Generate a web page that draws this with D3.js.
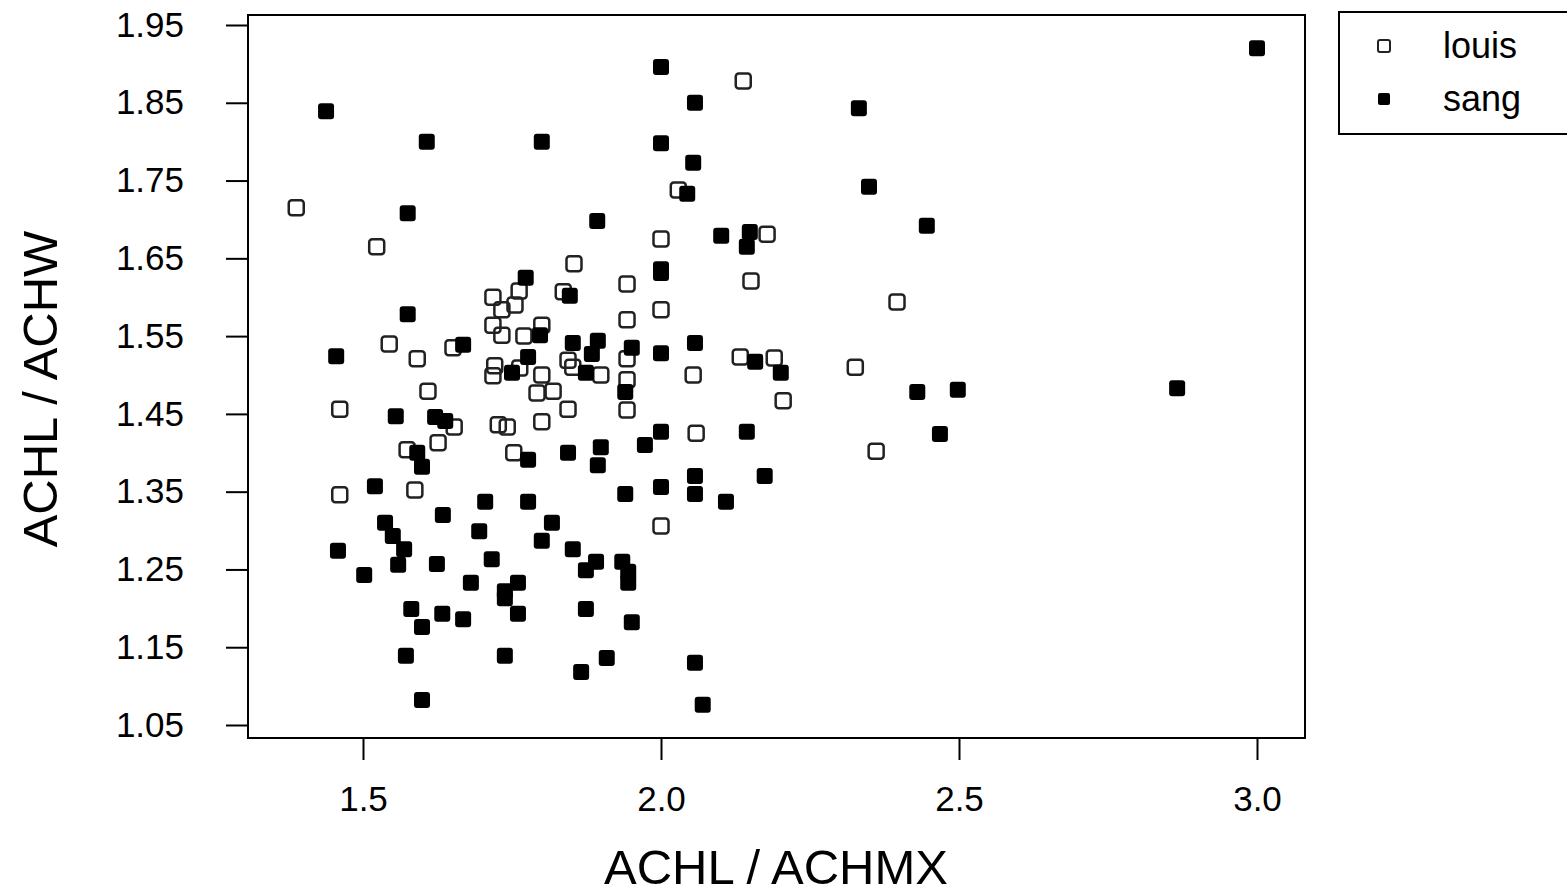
<!DOCTYPE html>
<html>
<head>
<meta charset="utf-8">
<script src="https://cdn.jsdelivr.net/npm/d3@7"></script>
<style>
  body { margin: 0; background: #fff; }
  text { font-family: "Liberation Sans", Arial, sans-serif; fill: #000; }
</style>
</head>
<body>
<svg width="1567" height="893"></svg>
<script>
(function () {

  // louis (open squares): [ACHL/ACHMX, ACHL/ACHW]
  const LOUIS = [
    [1.388, 1.715], [1.523, 1.665], [1.544, 1.540], [1.591, 1.521], [1.609, 1.479],
    [1.461, 1.456], [1.626, 1.413], [1.653, 1.433], [1.574, 1.404], [1.461, 1.346],
    [1.587, 1.352], [1.651, 1.535], [1.718, 1.600], [1.762, 1.608], [1.755, 1.590],
    [1.733, 1.584], [1.718, 1.564], [1.733, 1.551], [1.770, 1.550], [1.800, 1.564],
    [1.836, 1.607], [1.854, 1.643], [1.943, 1.617], [1.943, 1.571], [1.844, 1.519],
    [1.852, 1.510], [1.899, 1.500], [1.943, 1.521], [1.943, 1.494], [1.943, 1.455],
    [1.721, 1.512], [1.718, 1.499], [1.763, 1.509], [1.800, 1.500], [1.792, 1.477],
    [1.819, 1.479], [1.844, 1.456], [1.800, 1.440], [1.727, 1.436], [1.742, 1.433],
    [1.753, 1.400], [2.000, 1.675], [2.000, 1.584], [2.000, 1.306], [2.029, 1.738],
    [2.138, 1.878], [2.178, 1.681], [2.151, 1.621], [2.133, 1.523], [2.190, 1.522],
    [2.205, 1.467], [2.054, 1.500], [2.059, 1.425], [2.396, 1.594], [2.326, 1.510],
    [2.361, 1.402]
  ];

  // sang (filled squares)
  const SANG = [
    [1.438, 1.839], [1.607, 1.800], [1.575, 1.708], [1.800, 1.800], [1.893, 1.698],
    [2.000, 1.896], [2.057, 1.850], [2.000, 1.798], [2.054, 1.773], [2.044, 1.733],
    [2.101, 1.679], [2.149, 1.684], [2.144, 1.665], [2.000, 1.636], [2.000, 1.631],
    [1.773, 1.625], [1.847, 1.602], [1.575, 1.578], [1.797, 1.551], [1.852, 1.541],
    [1.894, 1.544], [1.951, 1.535], [1.884, 1.527], [2.000, 1.528], [2.057, 1.541],
    [2.158, 1.517], [2.201, 1.503], [1.455, 1.524], [1.668, 1.539], [1.777, 1.523],
    [1.750, 1.503], [1.874, 1.503], [1.940, 1.478], [1.555, 1.447], [1.621, 1.446],
    [1.638, 1.441], [1.591, 1.400], [1.599, 1.382], [1.844, 1.400], [1.777, 1.391],
    [1.899, 1.407], [1.894, 1.384], [1.973, 1.410], [2.000, 1.427], [2.144, 1.427],
    [2.057, 1.370], [2.174, 1.370], [2.000, 1.356], [2.057, 1.347], [1.940, 1.347],
    [1.520, 1.357], [1.705, 1.337], [1.777, 1.337], [2.109, 1.337], [1.634, 1.320],
    [1.537, 1.310], [1.817, 1.310], [1.550, 1.293], [1.695, 1.299], [1.800, 1.287],
    [1.569, 1.276], [1.458, 1.274], [1.852, 1.276], [1.559, 1.256], [1.624, 1.257],
    [1.716, 1.263], [1.502, 1.243], [1.874, 1.249], [1.891, 1.260], [1.935, 1.260],
    [1.945, 1.247], [1.945, 1.233], [1.681, 1.233], [1.760, 1.233], [1.738, 1.222],
    [1.738, 1.213], [1.581, 1.199], [1.633, 1.193], [1.668, 1.186], [1.599, 1.176],
    [1.760, 1.193], [1.874, 1.199], [1.951, 1.182], [1.572, 1.139], [1.738, 1.139],
    [1.909, 1.136], [1.866, 1.118], [2.057, 1.130], [1.599, 1.082], [2.070, 1.076],
    [2.332, 1.843], [2.349, 1.742], [2.446, 1.692], [2.430, 1.478], [2.498, 1.481],
    [2.468, 1.424], [2.866, 1.483], [3.000, 1.920]
  ];

  const X_TICKS = [1.5, 2.0, 2.5, 3.0];
  const Y_TICKS = [1.05, 1.15, 1.25, 1.35, 1.45, 1.55, 1.65, 1.75, 1.85, 1.95];
  const GROUPS = ["louis", "sang"];

  const box = { left: 248, right: 1305, top: 15, bottom: 738 };
  const msize = 15;

  const xScale = d3.scaleLinear().domain([1.5, 3.0]).range([363, 1257]);
  const yScale = d3.scaleLinear().domain([1.05, 1.95]).range([725, 25]);

  const svg = d3.select("svg");

  // frame of the plot
  svg.append("rect")
    .attr("x", box.left).attr("y", box.top)
    .attr("width", box.right - box.left).attr("height", box.bottom - box.top)
    .attr("fill", "none").attr("stroke", "#000").attr("stroke-width", 2);

  // axes, R-style: ticks outside, axis line only between first and last tick
  const xAxis = d3.axisBottom(xScale)
    .tickValues(X_TICKS).tickFormat(d3.format(".1f"))
    .tickSize(22).tickPadding(26);
  const gx = svg.append("g")
    .attr("transform", `translate(0,${box.bottom})`)
    .call(xAxis);
  gx.select(".domain").attr("d", `M${xScale(1.5)},0H${xScale(3.0)}`).attr("stroke-width", 2);
  gx.selectAll(".tick line").attr("stroke-width", 2);
  gx.selectAll("text").style("font-size", "35px").attr("fill", "#000");

  const yAxis = d3.axisLeft(yScale)
    .tickValues(Y_TICKS).tickFormat(d3.format(".2f"))
    .tickSize(22).tickPadding(42);
  const gy = svg.append("g")
    .attr("transform", `translate(${box.left},0)`)
    .call(yAxis);
  gy.select(".domain").attr("d", `M0,${yScale(1.05)}V${yScale(1.95)}`).attr("stroke-width", 2);
  gy.selectAll(".tick line").attr("stroke-width", 2);
  gy.selectAll("text").style("font-size", "35px").attr("fill", "#000");

  // axis titles
  svg.append("text")
    .attr("x", 776).attr("y", 884)
    .attr("text-anchor", "middle")
    .style("font-size", "49px")
    .text("ACHL / ACHMX");

  svg.append("text")
    .attr("transform", "translate(57,389) rotate(-90)")
    .attr("text-anchor", "middle")
    .style("font-size", "49px")
    .text("ACHL / ACHW");

  // points
  svg.append("g").selectAll("rect")
    .data(LOUIS)
    .join("rect")
    .attr("x", d => xScale(d[0]) - msize / 2)
    .attr("y", d => yScale(d[1]) - msize / 2)
    .attr("width", msize).attr("height", msize)
    .attr("rx", 3)
    .attr("fill", "none")
    .attr("stroke", "#222")
    .attr("stroke-width", 2.5);

  svg.append("g").selectAll("rect")
    .data(SANG)
    .join("rect")
    .attr("x", d => xScale(d[0]) - (msize + 1) / 2)
    .attr("y", d => yScale(d[1]) - (msize + 1) / 2)
    .attr("width", msize + 1).attr("height", msize + 1)
    .attr("rx", 3)
    .attr("fill", "#000");

  // legend
  const legend = svg.append("g");
  legend.append("rect")
    .attr("x", 1339).attr("y", 12)
    .attr("width", 240).attr("height", 122)
    .attr("fill", "none").attr("stroke", "#000").attr("stroke-width", 2);

  const items = legend.selectAll("g.item")
    .data(GROUPS)
    .join("g")
    .attr("class", "item")
    .attr("transform", (d, i) => `translate(0,${46 + i * 53})`);

  items.append("rect")
    .attr("x", 1378).attr("y", -6)
    .attr("width", 12).attr("height", 12)
    .attr("rx", 2)
    .attr("fill", (d, i) => i === 0 ? "none" : "#000")
    .attr("stroke", (d, i) => i === 0 ? "#222" : "none")
    .attr("stroke-width", 2);

  items.append("text")
    .attr("x", 1443).attr("y", 12)
    .style("font-size", "36px")
    .text(d => d);
})();
</script>
</body>
</html>
